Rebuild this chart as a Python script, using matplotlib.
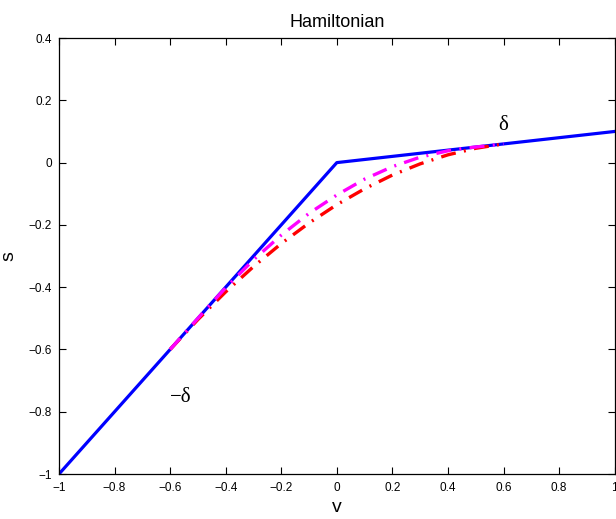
import matplotlib.pyplot as plt

# blue piecewise Hamiltonian
v_ham = [-1.0, 0.0, 1.0]
s_ham = [-1.0, 0.0, 0.1]

# red dash-dot smoothing
v_red = [-0.6, -0.5, -0.4, -0.3, -0.2, -0.1, 0.0, 0.1, 0.2, 0.3, 0.4, 0.5, 0.6]
s_red = [-0.6, -0.504, -0.415, -0.334, -0.26, -0.194, -0.135, -0.084, -0.04,
         -0.004, 0.025, 0.046, 0.06]

# magenta dash-dot smoothing
v_mag = [-0.6, -0.5, -0.46, -0.4, -0.3, -0.2, -0.1, 0.0, 0.1, 0.2, 0.3, 0.4, 0.46, 0.5, 0.6]
s_mag = [-0.6, -0.5, -0.46, -0.402, -0.312, -0.233, -0.163, -0.104, -0.053, -0.013,
         0.0175, 0.038, 0.046, 0.05, 0.06]

xticks = [-1, -0.8, -0.6, -0.4, -0.2, 0, 0.2, 0.4, 0.6, 0.8, 1]
yticks = [-1, -0.8, -0.6, -0.4, -0.2, 0, 0.2, 0.4]

plt.rcParams['font.family'] = ['Liberation Sans', 'DejaVu Sans']

fig = plt.figure(figsize=(6.16, 5.19), dpi=100)
ax = fig.add_axes([0.0958, 0.0867, 0.902, 0.840])

ax.plot(v_ham, s_ham, color='blue', lw=2.3, zorder=2)
dashdot = (0, (4.5, 2.5, 0.6, 2.5))
ax.plot(v_red, s_red, color='red', lw=2.4, linestyle=dashdot, zorder=3)
ax.plot(v_mag, s_mag, color='magenta', lw=2.4, linestyle=dashdot, zorder=4)

ax.text(0.6, 0.12, 'δ', fontsize=15, family=['Liberation Serif', 'DejaVu Serif'],
        ha='center', va='center')
ax.text(-0.56, -0.755, '−δ', fontsize=15, family=['Liberation Serif', 'DejaVu Serif'],
        ha='center', va='center')

ax.set_xlim(-1, 1)
ax.set_ylim(-1, 0.4)
ax.set_xticks(xticks)
ax.set_yticks(yticks)
ax.set_xticklabels([f'{t:g}'.replace('-', '−') for t in xticks])
ax.set_yticklabels([f'{t:g}'.replace('-', '−') for t in yticks])
ax.tick_params(direction='in', top=True, right=True, length=5, width=0.8,
               labelsize=8.5)
ax.tick_params(axis='x', pad=6)
ax.tick_params(axis='y', pad=5)
for sp in ax.spines.values():
    sp.set_linewidth(0.9)

ax.set_title('Hamiltonian', fontsize=13, pad=8)
ax.set_xlabel('v', fontsize=14, labelpad=3)
ax.set_ylabel('s', fontsize=14, labelpad=8)

fig.savefig('out.png', dpi=100)
